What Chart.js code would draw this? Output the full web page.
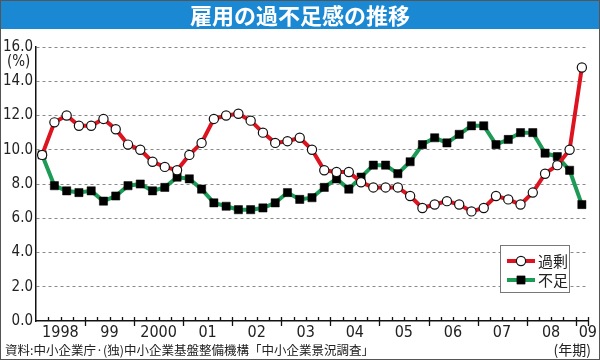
<!DOCTYPE html>
<html>
<head>
<meta charset="utf-8">
<script src="https://cdn.jsdelivr.net/npm/chart.js@4"></script>
<style>
  html, body { margin: 0; padding: 0; background: #fff; }
  #wrap { position: relative; width: 600px; height: 360px; overflow: hidden; background: #fff; }
  #chart { position: absolute; left: 0; top: 0; }
  #title {
    position: absolute; left: 0; top: 0; width: 600px; height: 29px;
    background: #1a88d2; color: #fff; text-align: center;
    font: bold 22px "Noto Sans CJK JP", sans-serif; line-height: 29px;
  }
  #unit { position: absolute; left: 7px; top: 52px; font: 15px "Liberation Sans Narrow", "DejaVu Sans Condensed", sans-serif; color: #222; }
  #source { position: absolute; left: 5px; top: 340px; font: 12.5px "Noto Sans CJK JP", sans-serif; color: #222; }
  #period { position: absolute; right: 9px; top: 339px; font: 14px "Noto Sans CJK JP", sans-serif; color: #222; }
  #frame { position: absolute; left: 0; top: 0; width: 600px; height: 360px; box-sizing: border-box; border: 1.5px solid #555; pointer-events: none; }
</style>
</head>
<body>
<div id="wrap">
  <canvas id="chart" width="600" height="360"></canvas>
  <div id="title">雇用の過不足感の推移</div>
  <div id="unit">(%)</div>
  <div id="source">資料:中小企業庁·(独)中小企業基盤整備機構「中小企業景況調査」</div>
  <div id="period">(年期)</div>
  <div id="frame"></div>
</div>
<script>
// Years shown on the axis, quarterly data from 1998 Q1 to 2009 Q1
const years = ['1998', '99', '2000', '01', '02', '03', '04', '05', '06', '07', '08', '09'];
const yTicks = [0, 2, 4, 6, 8, 10, 12, 14, 16];

// 過剰 (surplus)
const surplus = [9.7, 11.6, 12.0, 11.4, 11.4, 11.8, 11.2, 10.3, 10.0, 9.3, 9.0, 8.8,
  9.7, 10.4, 11.8, 12.0, 12.1, 11.7, 11.0, 10.4, 10.5, 10.7, 10.0, 8.8,
  8.7, 8.7, 8.1, 7.8, 7.8, 7.8, 7.3, 6.6, 6.8, 7.0, 6.8, 6.4,
  6.6, 7.3, 7.1, 6.8, 7.5, 8.6, 9.1, 10.0, 14.8];

// 不足 (shortage)
const shortage = [9.7, 7.9, 7.6, 7.5, 7.6, 7.0, 7.3, 7.9, 8.0, 7.6, 7.8, 8.4,
  8.3, 7.7, 6.9, 6.7, 6.5, 6.5, 6.6, 6.9, 7.5, 7.1, 7.2, 7.8,
  8.3, 7.7, 8.4, 9.1, 9.1, 8.6, 9.3, 10.3, 10.7, 10.4, 10.9, 11.4,
  11.4, 10.3, 10.6, 11.0, 11.0, 9.8, 9.6, 8.8, 6.8];

// one category per quarter
const labels = [];
years.forEach(function(y) {
    for (let q = 1; q <= 4; q++) {
        if (labels.length < surplus.length) labels.push(y + '-' + q);
    }
});

const numFont = "'Liberation Sans Narrow', 'DejaVu Sans Condensed', sans-serif";
const jpFont = "'Noto Sans CJK JP', sans-serif";
const RED = '#dd1420';
const GREEN = '#1d9a55';

// quarter tick marks on the x axis (short) and year marks (long)
const tickMarks = {
    id: 'tickMarks',
    afterDraw(chart) {
        const ctx = chart.ctx;
        const x = chart.scales.x;
        const y0 = chart.chartArea.bottom;
        const half = (x.getPixelForValue(1) - x.getPixelForValue(0)) / 2;
        ctx.save();
        ctx.strokeStyle = '#111';
        ctx.lineWidth = 1.3;
        for (let i = 1; i <= labels.length; i++) {
            const px = Math.round(x.getPixelForValue(i) - half) + 0.5;
            const major = i % 4 === 0 || i === labels.length;
            ctx.beginPath();
            ctx.moveTo(px, y0 - 4);
            ctx.lineTo(px, major ? y0 + 5 : y0);
            ctx.stroke();
        }
        ctx.restore();
    }
};

// boxed legend inside the plot, line + marker like the datasets
const boxLegend = {
    id: 'boxLegend',
    afterDraw(chart) {
        const ctx = chart.ctx;
        const bx = 500, by = 245, bw = 69, bh = 47;
        ctx.save();
        ctx.fillStyle = '#fff';
        ctx.fillRect(bx, by, bw, bh);
        ctx.strokeStyle = '#777';
        ctx.lineWidth = 1;
        ctx.strokeRect(bx + 0.5, by + 0.5, bw, bh);
        chart.data.datasets.forEach(function(ds, i) {
            const cy = by + 16 + i * 19;
            ctx.strokeStyle = ds.borderColor;
            ctx.lineWidth = 4;
            ctx.beginPath();
            ctx.moveTo(bx + 7, cy);
            ctx.lineTo(bx + 35, cy);
            ctx.stroke();
            ctx.fillStyle = ds.pointBackgroundColor;
            ctx.strokeStyle = ds.pointBorderColor;
            ctx.lineWidth = ds.pointBorderWidth;
            ctx.beginPath();
            if (ds.pointStyle === 'circle') {
                ctx.arc(bx + 21, cy, ds.pointRadius, 0, Math.PI * 2);
            } else {
                const s = ds.pointRadius * Math.SQRT1_2;
                ctx.rect(bx + 21 - s, cy - s, 2 * s, 2 * s);
            }
            ctx.fill();
            ctx.stroke();
            ctx.fillStyle = '#222';
            ctx.font = '15px ' + jpFont;
            ctx.textBaseline = 'middle';
            ctx.fillText(ds.label, bx + 38, cy);
        });
        ctx.restore();
    }
};

new Chart(document.getElementById('chart'), {
    type: 'line',
    data: {
        labels: labels,
        datasets: [{
            label: '過剰',
            data: surplus,
            borderColor: RED,
            borderWidth: 4,
            pointStyle: 'circle',
            pointRadius: 4.6,
            pointBorderWidth: 1.2,
            pointBackgroundColor: '#fff',
            pointBorderColor: '#111',
            tension: 0
        }, {
            label: '不足',
            data: shortage,
            borderColor: GREEN,
            borderWidth: 4,
            pointStyle: 'rect',
            pointRadius: 5.8,
            pointBorderWidth: 0.5,
            pointBackgroundColor: '#000',
            pointBorderColor: '#000',
            tension: 0
        }]
    },
    options: {
        responsive: false,
        animation: false,
        layout: { padding: { top: 47, right: 12, bottom: 0, left: 0 } },
        plugins: {
            legend: { display: false },
            tooltip: { enabled: false }
        },
        scales: {
            x: {
                offset: true,
                grid: { display: false, offset: true, drawTicks: false },
                border: { display: true, color: '#111', width: 1.5 },
                afterFit: function(scale) { scale.height = 39; },
                ticks: {
                    autoSkip: false,
                    maxRotation: 0,
                    minRotation: 0,
                    padding: 2,
                    labelOffset: 6,
                    color: '#222',
                    font: { family: numFont, size: 16 },
                    callback: function(val, i) {
                        if (i % 4 === 1 || i === labels.length - 1) return years[Math.floor(i / 4)];
                        return '';
                    }
                }
            },
            y: {
                min: 0,
                max: 16,
                afterFit: function(scale) { scale.width = 36; },
                afterBuildTicks: function(scale) {
                    scale.ticks = yTicks.map(v => ({ value: v }));
                },
                grid: {
                    color: ctx => ctx.tick && ctx.tick.value === 0 ? 'rgba(0,0,0,0)' : '#8a8a8a',
                    lineWidth: 1,
                    drawTicks: false
                },
                border: { display: true, color: '#111', width: 1.5, dash: [3, 3] },
                ticks: {
                    padding: 3,
                    color: '#222',
                    font: { family: numFont, size: 15 },
                    callback: v => v.toFixed(1)
                }
            }
        }
    },
    plugins: [tickMarks, boxLegend]
});
</script>
</body>
</html>
